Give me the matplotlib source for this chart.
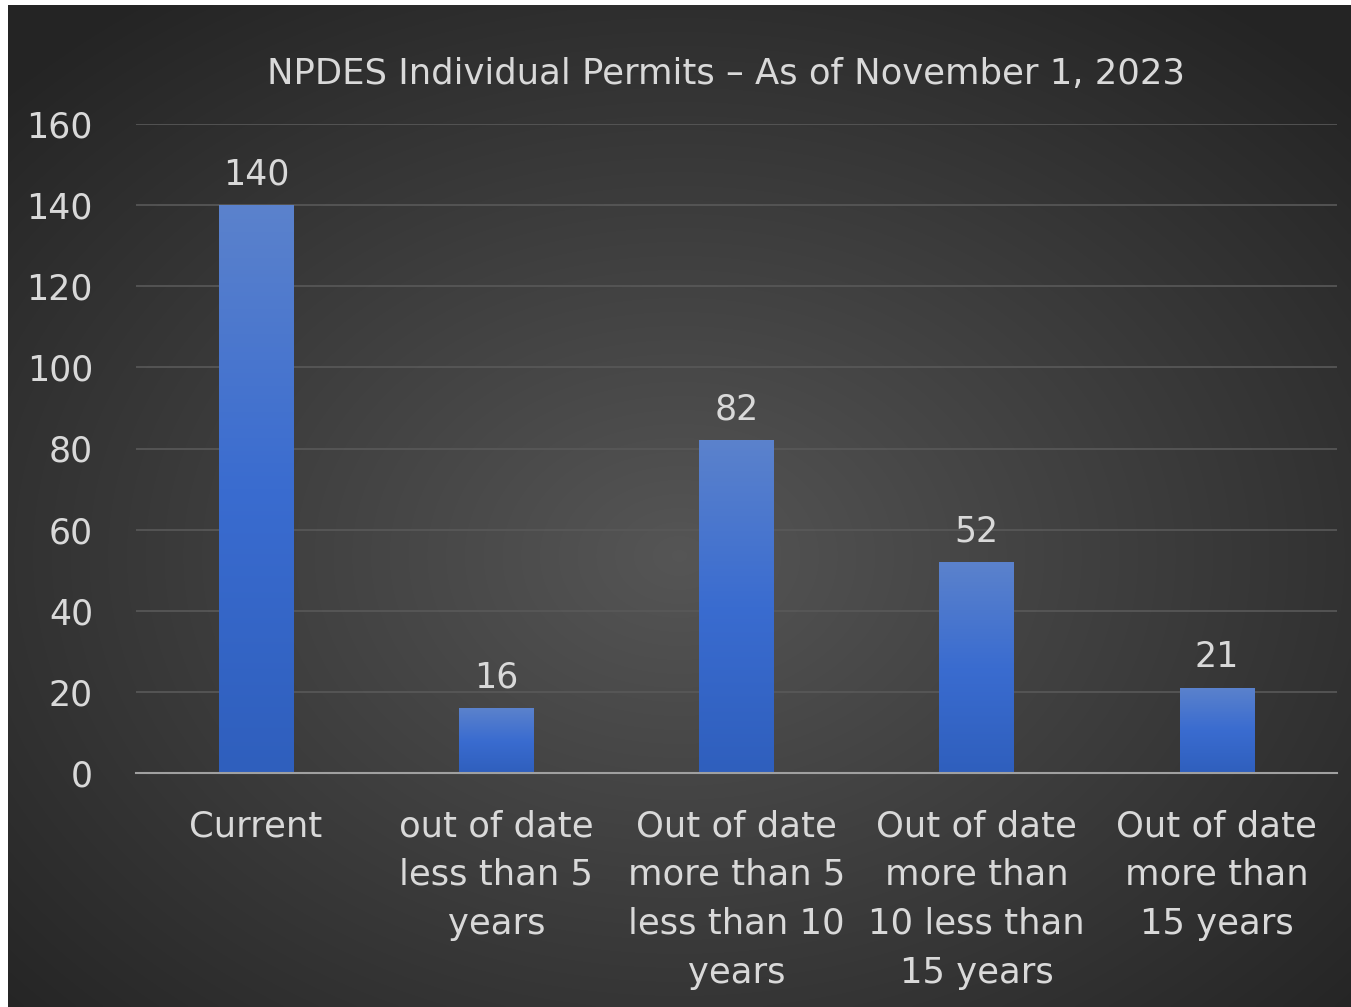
import numpy as np
import matplotlib.pyplot as plt
from matplotlib.colors import LinearSegmentedColormap

# Data
categories = ['Current', 'out of date\nless than 5\nyears', 'Out of date\nmore than 5\nless than 10\nyears',
              'Out of date\nmore than\n10 less than\n15 years', 'Out of date\nmore than\n15 years']
values = [140, 16, 82, 52, 21]
yticks = [0, 20, 40, 60, 80, 100, 120, 140, 160]

plt.rcParams['font.family'] = ['DejaVu Sans']
txt = '#d9d9d9'

W, H = 1351, 1007
fig = plt.figure(figsize=(W / 100, H / 100), dpi=100, facecolor='white')

# radial gradient background (white strip at left/top as in the reference)
bg = fig.add_axes([8 / W, 0, 1 - 8 / W, 1 - 5 / H])
yy, xx = np.mgrid[0:1:400j, 0:1:540j]
r = np.sqrt(((xx - 0.5) / 0.75) ** 2 + ((yy - 0.55) / 0.75) ** 2)
shade = np.clip(0.335 - 0.21 * r, 0.145, 0.34)
bg.imshow(np.dstack([shade] * 3), extent=[0, 1, 0, 1], aspect='auto', interpolation='bicubic')
bg.set_axis_off()

ax = fig.add_axes([136 / W, 1 - 773 / H, 1201 / W, 649 / H])
ax.set_facecolor('none')
x = np.arange(len(values))
bw = 0.31
bars = ax.bar(x, values, width=bw, color='#4472c4', zorder=3)

# vertical gradient inside each bar
grad = np.linspace(0, 1, 256).reshape(-1, 1)
cmap = LinearSegmentedColormap.from_list('bar', ['#2f5fbd', '#3a6cd0', '#5b82cc'])
for b in bars:
    im = ax.imshow(grad, extent=[b.get_x(), b.get_x() + b.get_width(), 0, b.get_height()],
                   origin='lower', cmap=cmap, aspect='auto', zorder=4)
    im.set_clip_path(b)
    ax.text(b.get_x() + b.get_width() / 2, b.get_height() + 3.4, str(int(b.get_height())),
            ha='center', va='bottom', fontsize=25, color=txt, zorder=5)

ax.set_xlim(-0.5, len(values) - 0.5)
ax.set_ylim(0, 160)
ax.set_yticks(yticks)
ax.set_yticklabels([str(v) for v in yticks], fontsize=25, color=txt)
ax.set_xticks(x)
ax.set_xticklabels(categories, fontsize=25.5, color=txt, linespacing=1.55, va='top')
ax.tick_params(axis='both', length=0)
ax.tick_params(axis='y', pad=31)
ax.tick_params(axis='x', pad=26)
ax.grid(axis='y', color='#595959', linewidth=1.2, zorder=0)
for s in ['top', 'right', 'left']:
    ax.spines[s].set_visible(False)
ax.spines['bottom'].set_color('#a0a0a0')
ax.spines['bottom'].set_linewidth(1.5)
ax.spines['bottom'].set_zorder(6)

fig.text(726 / W, 1 - 74 / H, 'NPDES Individual Permits \u2013 As of November 1, 2023',
         ha='center', va='center', fontsize=25.5, color=txt)

fig.savefig('out.png', dpi=100, facecolor='white')
